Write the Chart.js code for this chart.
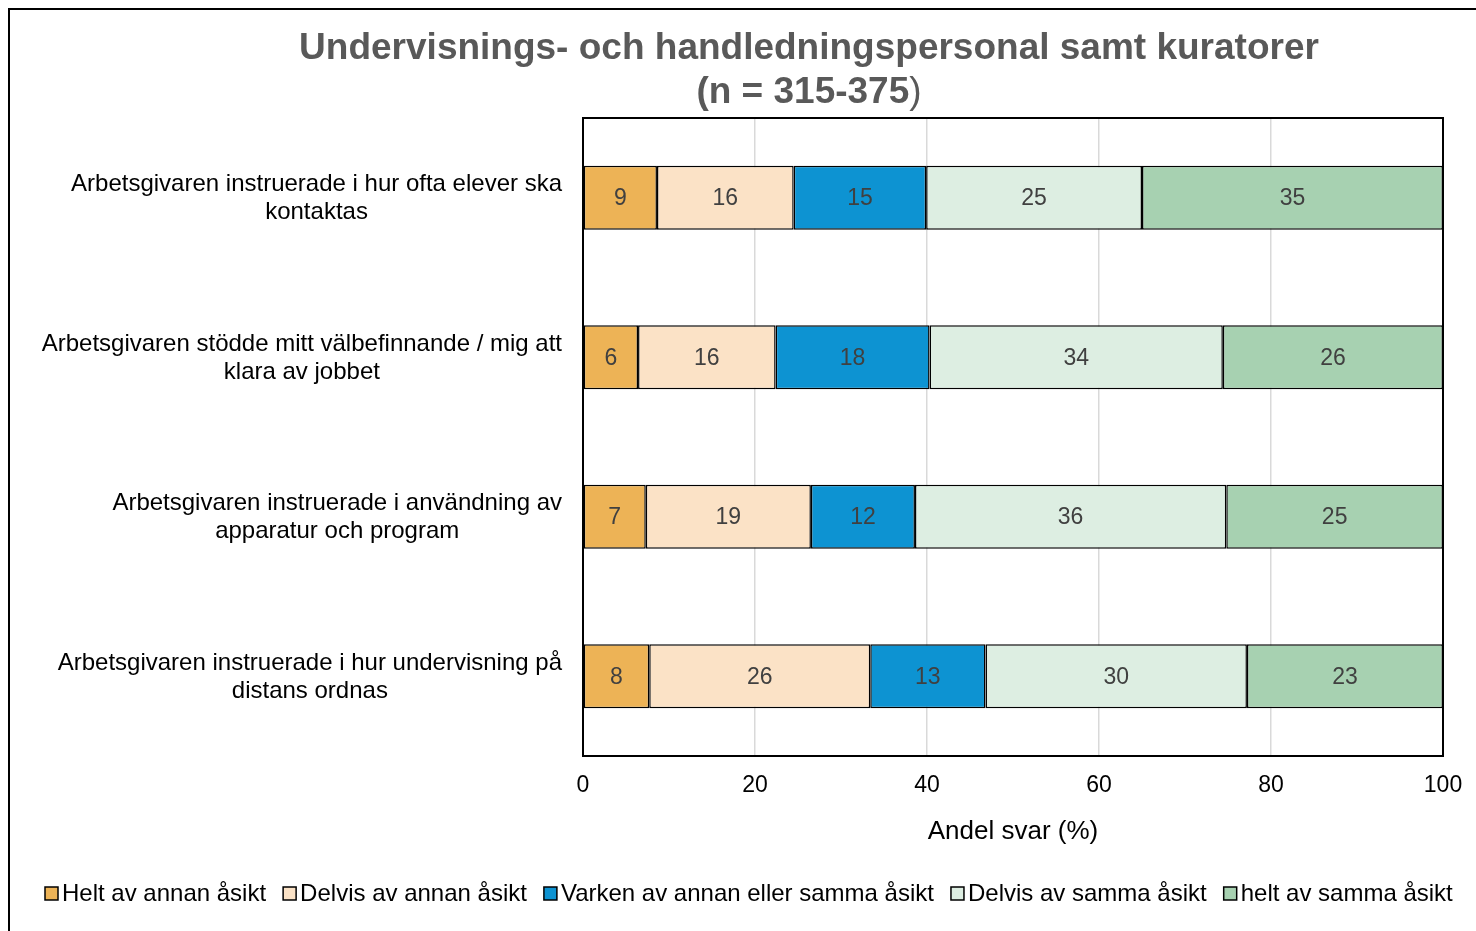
<!DOCTYPE html>
<html><head><meta charset="utf-8">
<script src="https://cdn.jsdelivr.net/npm/chart.js@4"></script>
<style>
html,body{margin:0;padding:0;background:#fff;overflow:hidden;width:1476px;height:931px}
#frame{position:absolute;left:8px;top:8px;width:1600px;height:1100px;border:2px solid #000;box-sizing:border-box;pointer-events:none}
canvas{position:absolute;left:0;top:0}
</style></head><body>
<canvas id="c" width="1476" height="931"></canvas>
<div id="frame"></div>
<script>
const titleLine1 = 'Undervisnings- och handledningspersonal samt kuratorer';
const titleLine2 = '(n = 315-375';
const titleLine2End = ')';
const categories = [
  ['Arbetsgivaren instruerade i hur ofta elever ska', 'kontaktas'],
  ['Arbetsgivaren stödde mitt välbefinnande / mig att', 'klara av jobbet'],
  ['Arbetsgivaren instruerade i användning av', 'apparatur och program'],
  ['Arbetsgivaren instruerade i hur undervisning på', 'distans ordnas']
];
const seriesNames = ['Helt av annan åsikt', 'Delvis av annan åsikt', 'Varken av annan eller samma åsikt', 'Delvis av samma åsikt', 'helt av samma åsikt'];
const heltAnnan   = [8.6, 6.4, 7.3, 7.7];
const delvisAnnan = [15.9, 16.0, 19.2, 25.7];
const varken      = [15.4, 17.9, 12.1, 13.4];
const delvisSamma = [25.1, 34.1, 36.2, 30.4];
const heltSamma   = [35.0, 25.6, 25.2, 22.8];
const seriesColors = ['#EDB356', '#FBE2C6', '#0D93D2', '#DDEEE2', '#A7D1B1'];
const xTicks = [0, 20, 40, 60, 80, 100];
const xTitle = 'Andel svar (%)';

const FONT = "'Liberation Sans', Arial, sans-serif";
const seriesValues = [heltAnnan, delvisAnnan, varken, delvisSamma, heltSamma];

const datasets = seriesValues.map((vals, i) => ({
  label: seriesNames[i],
  data: vals,
  backgroundColor: seriesColors[i],
  borderColor: '#000',
  borderWidth: 1.5,
  borderSkipped: false,
  categoryPercentage: 1,
  barPercentage: 0.4,
  yAxisID: 'y', xAxisID: 'x'
}));

const customPlugin = {
  id: 'custom',
  afterDatasetsDraw(chart) {
    const ctx = chart.ctx;
    const ca = chart.chartArea;
    ctx.save();
    ctx.font = '23px ' + FONT;
    ctx.fillStyle = '#404040';
    ctx.textAlign = 'center';
    ctx.textBaseline = 'middle';
    chart.data.datasets.forEach((ds, di) => {
      const meta = chart.getDatasetMeta(di);
      meta.data.forEach((el, i) => {
        const p = el.getCenterPoint();
        ctx.fillText(String(Math.round(ds.data[i])), p.x, p.y + 1);
      });
    });
    ctx.restore();
    ctx.save();
    ctx.strokeStyle = '#000';
    ctx.lineWidth = 2;
    ctx.strokeRect(ca.left, ca.top, ca.right - ca.left, ca.bottom - ca.top);
    ctx.restore();
  },
  afterDraw(chart) {
    const ctx = chart.ctx;
    const ys = chart.scales.y;
    ctx.save();
    ctx.font = '24px ' + FONT;
    ctx.fillStyle = '#000';
    ctx.textAlign = 'center';
    ctx.textBaseline = 'middle';
    const rightEdge = 562;
    const lh = 28;
    categories.forEach((lines, i) => {
      const cy = ys.getPixelForValue(i);
      const w = Math.max(...lines.map(l => ctx.measureText(l).width));
      const cx = rightEdge - w / 2;
      lines.forEach((l, j) => {
        ctx.fillText(l, cx, cy + 1 + (j - (lines.length - 1) / 2) * lh);
      });
    });
    ctx.restore();
    ctx.save();
    ctx.fillStyle = '#595959';
    ctx.textBaseline = 'middle';
    ctx.textAlign = 'center';
    const tcx = 809;
    ctx.font = 'bold 37px ' + FONT;
    ctx.fillText(titleLine1, tcx, 49);
    const w2a = ctx.measureText(titleLine2).width;
    ctx.font = '37px ' + FONT;
    const w2b = ctx.measureText(titleLine2End).width;
    const x0 = tcx - (w2a + w2b) / 2;
    ctx.textAlign = 'left';
    ctx.font = 'bold 37px ' + FONT;
    ctx.fillText(titleLine2, x0, 93);
    ctx.font = '37px ' + FONT;
    ctx.fillText(titleLine2End, x0 + w2a, 93);
    ctx.restore();
    ctx.save();
    ctx.font = '24px ' + FONT;
    ctx.textBaseline = 'middle';
    ctx.textAlign = 'left';
    let x = 45;
    const ly = 893;
    seriesNames.forEach((name, i) => {
      ctx.fillStyle = seriesColors[i];
      ctx.fillRect(x, ly - 6, 13, 13);
      ctx.strokeStyle = '#000';
      ctx.lineWidth = 1.5;
      ctx.strokeRect(x, ly - 6, 13, 13);
      ctx.fillStyle = '#000';
      ctx.fillText(name, x + 17, ly + 1);
      x += 17 + ctx.measureText(name).width + 17;
    });
    ctx.restore();
  }
};

new Chart(document.getElementById('c'), {
  type: 'bar',
  data: { labels: categories.map(c => c.join(' ')), datasets },
  options: {
    indexAxis: 'y',
    responsive: false,
    animation: false,
    devicePixelRatio: 1,
    layout: { padding: { top: 118, right: 33, bottom: 75, left: 0 } },
    plugins: { legend: { display: false }, title: { display: false }, tooltip: { enabled: false } },
    scales: {
      x: {
        type: 'linear', stacked: true, min: 0, max: 100,
        afterBuildTicks(scale) { scale.ticks = xTicks.map(v => ({ value: v })); },
        afterFit(scale) { scale.height = 100; scale.paddingLeft = 0; scale.paddingRight = 0; },
        grid: { color: '#D9D9D9', lineWidth: 1.5, drawTicks: false },
        border: { display: false },
        ticks: { color: '#000', font: { family: FONT, size: 23 }, padding: 16 },
        title: { display: true, text: xTitle, color: '#000', font: { family: FONT, size: 26 }, padding: { top: 0, bottom: 9 } }
      },
      y: {
        type: 'category', stacked: true,
        afterFit(scale) { scale.width = 583; },
        grid: { display: false, drawTicks: false },
        border: { display: false },
        ticks: { display: false }
      }
    }
  },
  plugins: [customPlugin]
});
</script>
</body></html>
